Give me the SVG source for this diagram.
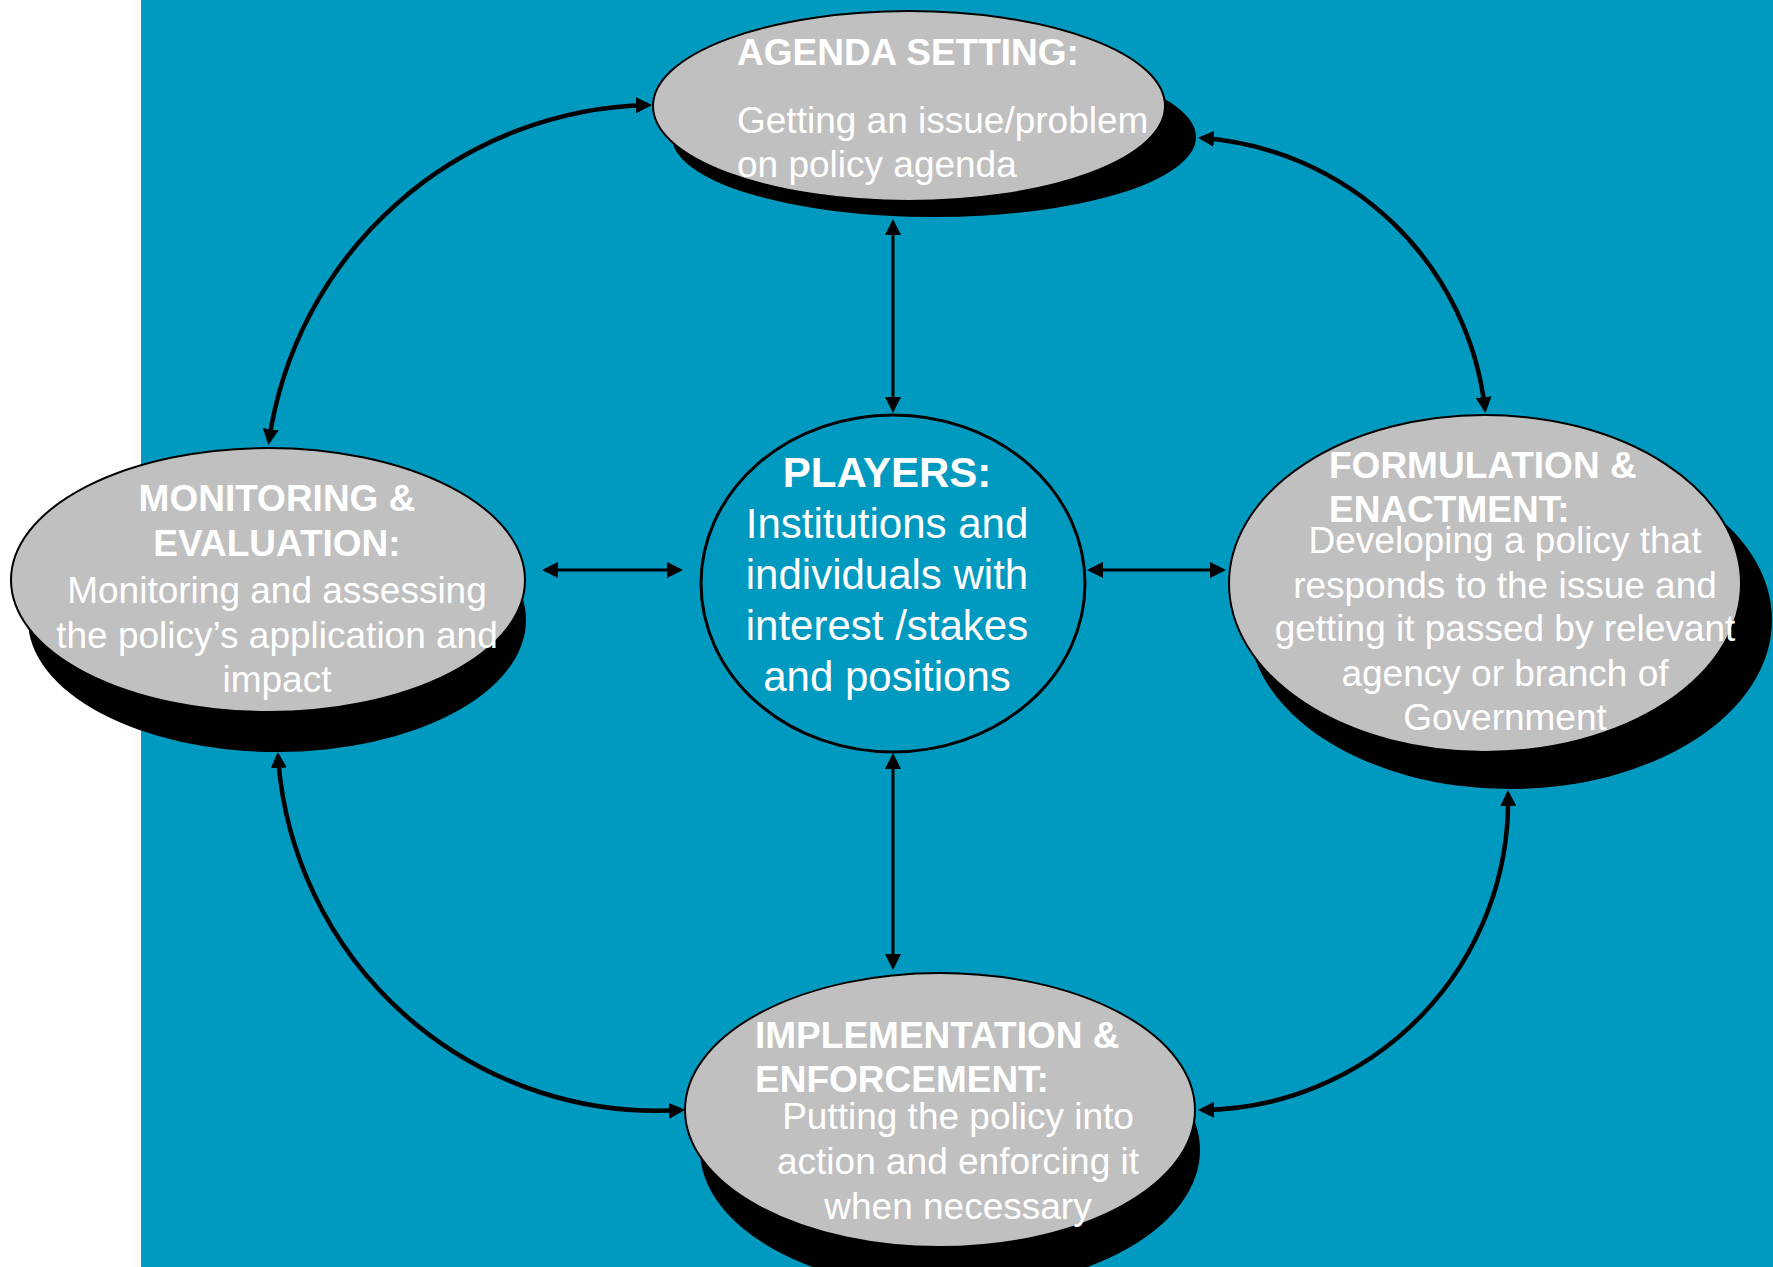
<svg xmlns="http://www.w3.org/2000/svg" width="1773" height="1267" viewBox="0 0 1773 1267">
  <style>
    .shadow { fill: #000000; }
    .oval { fill: #C0C0C0; stroke: #000000; stroke-width: 2; }
    .hub { fill: #0099BF; stroke: #000000; stroke-width: 3; }
    text { font-family: "Liberation Sans", Arial, Helvetica, sans-serif; fill: #FFFFFF; }
    .title { font-weight: bold; font-size: 37px; }
    .body { font-size: 37px; }
    .ptitle { font-weight: bold; font-size: 42px; }
    .pbody { font-size: 42px; }
    .curve { fill: none; stroke: #000000; stroke-width: 4.5; marker-start: url(#headL); marker-end: url(#headL); }
    .straight { fill: none; stroke: #000000; stroke-width: 3; marker-start: url(#headS); marker-end: url(#headS); }
  </style>
  <defs>
    <marker id="headL" markerUnits="userSpaceOnUse" viewBox="0 0 16 16" refX="12" refY="8" markerWidth="16" markerHeight="16" orient="auto-start-reverse">
      <path d="M0,0 L16,8 L0,16 z" fill="#000000"/>
    </marker>
    <marker id="headS" markerUnits="userSpaceOnUse" viewBox="0 0 16 16" refX="13" refY="8" markerWidth="16" markerHeight="16" orient="auto-start-reverse">
      <path d="M0,0 L16,8 L0,16 z" fill="#000000"/>
    </marker>
  </defs>

  <rect x="141" y="0" width="1632" height="1267" fill="#0099BF"/>

  <g id="connectors">
    <path class="curve" d="M 269 441 A 392 392 0 0 1 648 105"/>
    <path class="curve" d="M 1202 138 A 307 307 0 0 1 1485 409"/>
    <path class="curve" d="M 1508 794 A 309 309 0 0 1 1202 1110"/>
    <path class="curve" d="M 681 1110 A 380 380 0 0 1 278 756"/>
    <path class="straight" d="M 893 222 L 893 410"/>
    <path class="straight" d="M 893 756 L 893 967"/>
    <path class="straight" d="M 545 570 L 680 570"/>
    <path class="straight" d="M 1090 570 L 1223 570"/>
  </g>

  <g id="agenda-setting">
    <ellipse class="shadow" cx="934" cy="137" rx="262" ry="80"/>
    <ellipse class="oval" cx="909" cy="106" rx="256" ry="95"/>
    <text class="title" x="737" y="65">AGENDA SETTING:</text>
    <text class="body" x="737" y="133">Getting an issue/problem</text>
    <text class="body" x="737" y="177">on policy agenda</text>
  </g>

  <g id="monitoring-evaluation">
    <ellipse class="shadow" cx="277" cy="620" rx="249" ry="132"/>
    <ellipse class="oval" cx="268" cy="580" rx="257" ry="132"/>
    <text class="title" x="277" y="511" text-anchor="middle">MONITORING &amp;</text>
    <text class="title" x="277" y="556" text-anchor="middle">EVALUATION:</text>
    <text class="body" x="277" y="603" text-anchor="middle">Monitoring and assessing</text>
    <text class="body" x="277" y="648" text-anchor="middle">the policy’s application and</text>
    <text class="body" x="277" y="692" text-anchor="middle">impact</text>
  </g>

  <g id="formulation-enactment">
    <ellipse class="shadow" cx="1510" cy="620" rx="262" ry="169"/>
    <ellipse class="oval" cx="1485" cy="583.5" rx="256" ry="168.5"/>
    <text class="title" x="1329" y="478">FORMULATION &amp;</text>
    <text class="title" x="1329" y="522">ENACTMENT:</text>
    <text class="body" x="1505" y="553" text-anchor="middle">Developing a policy that</text>
    <text class="body" x="1505" y="598" text-anchor="middle">responds to the issue and</text>
    <text class="body" x="1505" y="641" text-anchor="middle">getting it passed by relevant</text>
    <text class="body" x="1505" y="686" text-anchor="middle">agency or branch of</text>
    <text class="body" x="1505" y="730" text-anchor="middle">Government</text>
  </g>

  <g id="implementation-enforcement">
    <ellipse class="shadow" cx="950" cy="1150" rx="250" ry="140"/>
    <ellipse class="oval" cx="940" cy="1110" rx="255" ry="137"/>
    <text class="title" x="755" y="1048">IMPLEMENTATION &amp;</text>
    <text class="title" x="755" y="1092">ENFORCEMENT:</text>
    <text class="body" x="958" y="1129" text-anchor="middle">Putting the policy into</text>
    <text class="body" x="958" y="1174" text-anchor="middle">action and enforcing it</text>
    <text class="body" x="958" y="1219" text-anchor="middle">when necessary</text>
  </g>

  <g id="players">
    <ellipse class="hub" cx="893" cy="583.5" rx="192" ry="168.5"/>
    <text class="ptitle" x="887" y="487" text-anchor="middle">PLAYERS:</text>
    <text class="pbody" x="887" y="538" text-anchor="middle">Institutions and</text>
    <text class="pbody" x="887" y="589" text-anchor="middle">individuals with</text>
    <text class="pbody" x="887" y="640" text-anchor="middle">interest /stakes</text>
    <text class="pbody" x="887" y="691" text-anchor="middle">and positions</text>
  </g>
</svg>
